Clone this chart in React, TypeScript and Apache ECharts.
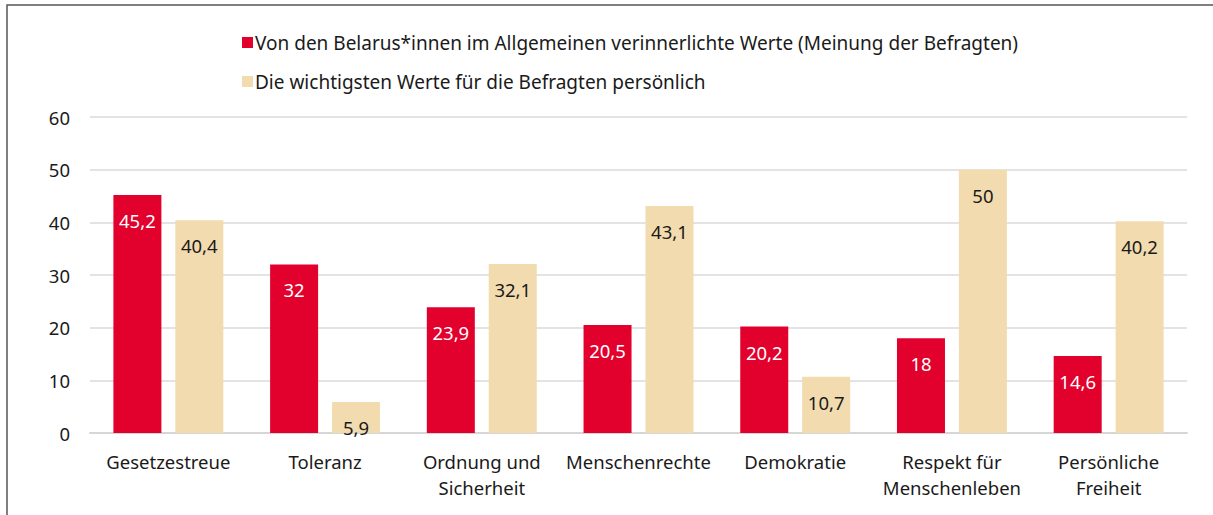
import React, { useEffect, useRef } from "react";
import * as echarts from "echarts";

const categories = [
  "Gesetzestreue",
  "Toleranz",
  "Ordnung und\nSicherheit",
  "Menschenrechte",
  "Demokratie",
  "Respekt für\nMenschenleben",
  "Persönliche\nFreiheit",
];
const seriesNames = [
  "Von den Belarus*innen im Allgemeinen verinnerlichte Werte (Meinung der Befragten)",
  "Die wichtigsten Werte für die Befragten persönlich",
];
const generalValues = [45.2, 32, 23.9, 20.5, 20.2, 18, 14.6];
const personalValues = [40.4, 5.9, 32.1, 43.1, 10.7, 50, 40.2];
const yTicks = [0, 10, 20, 30, 40, 50, 60];

const FONT = "'Noto Sans', sans-serif";
const fmt = (v: number) => String(v).replace(".", ",");

export default function App() {
  const ref = useRef<HTMLDivElement>(null);
  useEffect(() => {
    if (!ref.current) return;
    const chart = echarts.init(ref.current, undefined, { renderer: "svg" });
    chart.setOption({
      animation: false,
      textStyle: { fontFamily: FONT },
      legend: {
        orient: "vertical",
        left: 237,
        top: 28,
        itemWidth: 11,
        itemHeight: 11,
        itemGap: 20,
        icon: "rect",
        textStyle: { fontSize: 19, color: "#1a1a1a", fontFamily: FONT, padding: [0, 0, 0, -3] },
        data: seriesNames,
      },
      grid: { left: 90, right: 26, top: 117, bottom: 82, containLabel: false },
      xAxis: {
        type: "category",
        data: categories,
        axisLine: { lineStyle: { color: "#d6d6d6", width: 2 } },
        axisTick: { show: false },
        axisLabel: {
          fontSize: 18.5,
          color: "#1a1a1a",
          lineHeight: 26,
          margin: 15,
          fontFamily: FONT,
          interval: 0,
        },
      },
      yAxis: {
        type: "value",
        min: 0,
        max: 60,
        interval: 10,
        axisLine: { show: false },
        axisTick: { show: false },
        splitLine: { lineStyle: { color: "#e3e3e3", width: 2 } },
        axisLabel: {
          fontSize: 18.5,
          color: "#1a1a1a",
          margin: 20,
          fontFamily: FONT,
          formatter: (v: number) => (yTicks.includes(v) ? String(v) : ""),
        },
      },
      series: [
        {
          name: seriesNames[0],
          type: "bar",
          data: generalValues,
          barWidth: 48,
          barGap: "29%",
          itemStyle: { color: "#E2002C" },
          label: {
            show: true,
            position: "insideTop",
            distance: 16,
            color: "#ffffff",
            fontSize: 18.5,
            fontFamily: FONT,
            formatter: (p: any) => fmt(p.value),
          },
        },
        {
          name: seriesNames[1],
          type: "bar",
          data: personalValues,
          barWidth: 48,
          itemStyle: { color: "#F2DBAE" },
          label: {
            show: true,
            position: "insideTop",
            distance: 16,
            color: "#1a1a1a",
            fontSize: 18.5,
            fontFamily: FONT,
            formatter: (p: any) => fmt(p.value),
          },
        },
      ],
      graphic: [
        {
          type: "polyline",
          shape: { points: [[7, 520], [7, 5], [1220, 5]] },
          style: { stroke: "#555555", lineWidth: 1.5, fill: "none" },
          silent: true,
        },
      ],
    });
    return () => chart.dispose();
  }, []);
  return (
    <div
      ref={ref}
      style={{ position: "fixed", left: 0, top: 0, width: 1213, height: 515, background: "#fff" }}
    />
  );
}
